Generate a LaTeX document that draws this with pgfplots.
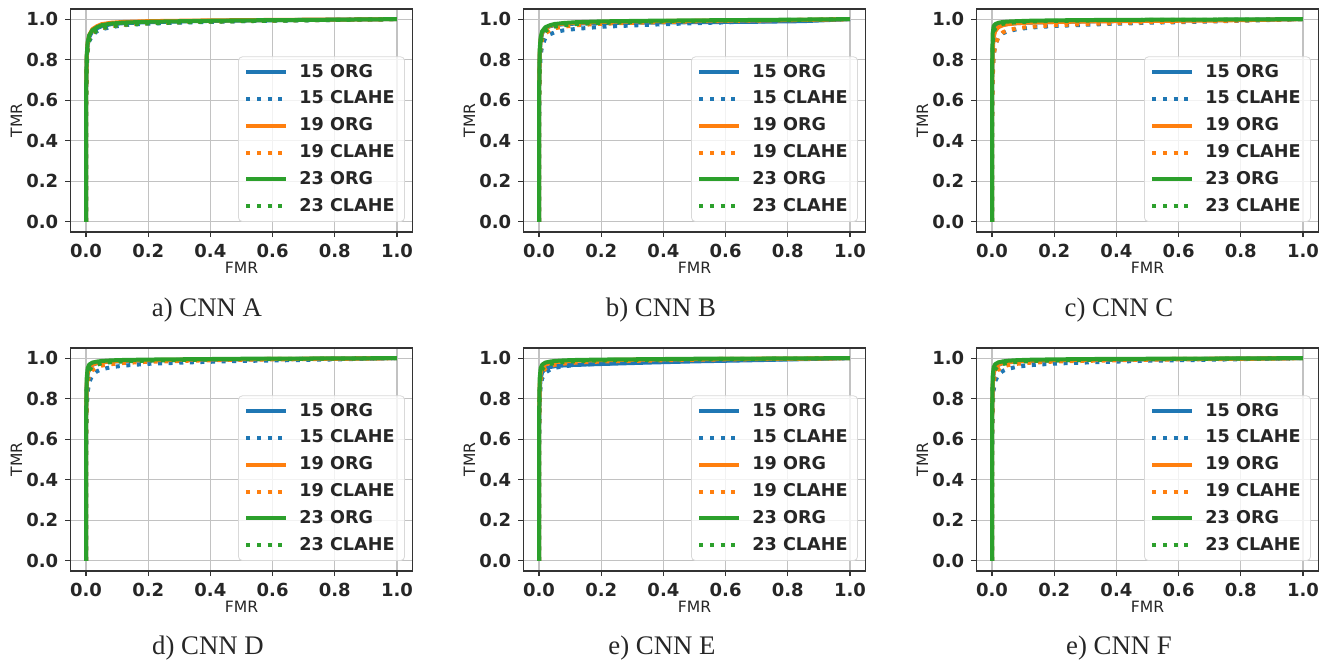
\documentclass[border=0pt]{standalone}
\usepackage{pgfplots}
\pgfplotsset{compat=1.18}
\usepackage{pgfplotstable}
\usepackage{fontspec}
\setmainfont{Liberation Serif}
\newfontfamily\dvs{DejaVu Sans}

\definecolor{cblue}{HTML}{1F77B4}
\definecolor{corange}{HTML}{FF7F0E}
\definecolor{cgreen}{HTML}{2CA02C}

% columns: a=15 ORG, b=15 CLAHE, c=19 ORG, d=19 CLAHE, e=23 ORG, f=23 CLAHE
\pgfplotstableread{
x     a     b     c     d     e     f
0     0     0     0     0     0     0
0     0.60  0.50  0.60  0.50  0.62  0.52
0.002 0.80  0.75  0.81  0.76  0.82  0.77
0.005 0.87  0.84  0.88  0.85  0.885 0.85
0.01  0.91  0.89  0.92  0.90  0.92  0.895
0.02  0.94  0.92  0.95  0.93  0.945 0.925
0.035 0.955 0.94  0.965 0.945 0.96  0.945
0.05  0.965 0.95  0.975 0.955 0.97  0.955
0.08  0.975 0.96  0.982 0.965 0.978 0.965
0.12  0.98  0.97  0.986 0.972 0.983 0.972
0.2   0.985 0.978 0.99  0.98  0.987 0.979
0.35  0.99  0.985 0.993 0.987 0.991 0.986
0.5   0.993 0.99  0.995 0.991 0.994 0.99
0.7   0.996 0.994 0.997 0.995 0.996 0.994
0.85  0.998 0.997 0.998 0.997 0.998 0.997
1     1     1     1     1     1     1
}\cnnA
\pgfplotstableread{
x     a     b     c     d     e     f
0     0     0     0     0     0     0
0     0.60  0.45  0.60  0.50  0.62  0.55
0.002 0.82  0.72  0.83  0.78  0.85  0.80
0.005 0.89  0.82  0.90  0.86  0.91  0.88
0.01  0.93  0.87  0.935 0.90  0.94  0.915
0.02  0.955 0.905 0.955 0.93  0.96  0.94
0.035 0.965 0.925 0.967 0.945 0.97  0.955
0.05  0.97  0.935 0.973 0.955 0.976 0.963
0.08  0.975 0.945 0.978 0.963 0.981 0.97
0.12  0.978 0.952 0.982 0.97  0.985 0.976
0.2   0.98  0.962 0.986 0.977 0.989 0.982
0.35  0.983 0.972 0.99  0.984 0.992 0.988
0.5   0.985 0.98  0.992 0.989 0.994 0.991
0.7   0.987 0.988 0.994 0.993 0.996 0.994
0.85  0.99  0.994 0.996 0.996 0.998 0.997
1     1     1     1     1     1     1
}\cnnB
\pgfplotstableread{
x     a     b     c     d     e     f
0     0     0     0     0     0     0
0     0.65  0.45  0.62  0.42  0.75  0.65
0.002 0.86  0.72  0.84  0.70  0.93  0.88
0.005 0.92  0.82  0.91  0.81  0.965 0.93
0.01  0.95  0.87  0.94  0.87  0.975 0.955
0.02  0.965 0.91  0.96  0.91  0.982 0.97
0.035 0.972 0.93  0.97  0.935 0.986 0.977
0.05  0.976 0.94  0.975 0.945 0.988 0.981
0.08  0.98  0.95  0.98  0.955 0.99  0.985
0.12  0.983 0.958 0.983 0.962 0.992 0.988
0.2   0.986 0.966 0.986 0.97  0.994 0.991
0.35  0.99  0.975 0.989 0.978 0.996 0.994
0.5   0.993 0.982 0.991 0.985 0.997 0.996
0.7   0.995 0.988 0.993 0.99  0.998 0.997
0.85  0.997 0.994 0.996 0.995 0.999 0.998
1     1     1     1     1     1     1
}\cnnC
\pgfplotstableread{
x     a     b     c     d     e     f
0     0     0     0     0     0     0
0     0.65  0.45  0.65  0.55  0.70  0.60
0.002 0.86  0.73  0.87  0.80  0.90  0.85
0.005 0.92  0.83  0.925 0.88  0.95  0.91
0.01  0.95  0.88  0.952 0.915 0.968 0.94
0.02  0.967 0.915 0.968 0.94  0.978 0.958
0.035 0.975 0.935 0.976 0.955 0.983 0.968
0.05  0.979 0.945 0.98  0.963 0.986 0.974
0.08  0.983 0.955 0.984 0.97  0.989 0.98
0.12  0.986 0.963 0.987 0.976 0.991 0.984
0.2   0.989 0.972 0.99  0.982 0.993 0.988
0.35  0.992 0.98  0.993 0.988 0.995 0.992
0.5   0.994 0.986 0.995 0.992 0.997 0.995
0.7   0.996 0.991 0.997 0.995 0.998 0.997
0.85  0.998 0.995 0.998 0.997 0.999 0.998
1     1     1     1     1     1     1
}\cnnD
\pgfplotstableread{
x     a     b     c     d     e     f
0     0     0     0     0     0     0
0     0.60  0.50  0.65  0.58  0.70  0.62
0.002 0.83  0.77  0.87  0.82  0.90  0.86
0.005 0.90  0.86  0.925 0.89  0.95  0.92
0.01  0.93  0.90  0.952 0.925 0.968 0.946
0.02  0.948 0.928 0.968 0.948 0.978 0.962
0.035 0.956 0.943 0.976 0.96  0.983 0.971
0.05  0.96  0.952 0.98  0.967 0.986 0.976
0.08  0.964 0.96  0.984 0.973 0.989 0.981
0.12  0.967 0.966 0.987 0.978 0.991 0.985
0.2   0.971 0.973 0.99  0.983 0.993 0.989
0.35  0.978 0.981 0.993 0.988 0.995 0.992
0.5   0.984 0.987 0.995 0.992 0.997 0.995
0.7   0.99  0.992 0.997 0.995 0.998 0.997
0.85  0.995 0.996 0.998 0.997 0.999 0.998
1     1     1     1     1     1     1
}\cnnE
\pgfplotstableread{
x     a     b     c     d     e     f
0     0     0     0     0     0     0
0     0.66  0.48  0.65  0.56  0.72  0.62
0.002 0.87  0.75  0.87  0.81  0.91  0.86
0.005 0.925 0.84  0.925 0.885 0.955 0.92
0.01  0.952 0.885 0.952 0.92  0.97  0.946
0.02  0.967 0.918 0.968 0.943 0.979 0.962
0.035 0.975 0.937 0.976 0.957 0.984 0.971
0.05  0.979 0.947 0.98  0.965 0.987 0.976
0.08  0.983 0.957 0.984 0.972 0.99  0.981
0.12  0.986 0.965 0.987 0.977 0.992 0.985
0.2   0.989 0.973 0.99  0.983 0.994 0.989
0.35  0.992 0.981 0.993 0.988 0.996 0.992
0.5   0.994 0.987 0.995 0.992 0.997 0.995
0.7   0.996 0.992 0.997 0.995 0.998 0.997
0.85  0.998 0.996 0.998 0.997 0.999 0.998
1     1     1     1     1     1     1
}\cnnF

\pgfplotsset{
  rocax/.style={
    width=171pt, height=111.5pt, scale only axis,
    xmin=-0.05, xmax=1.05, ymin=-0.05, ymax=1.05,
    xtick={0,0.2,0.4,0.6,0.8,1.0}, ytick={0,0.2,0.4,0.6,0.8,1.0},
    /pgf/number format/.cd, fixed, fixed zerofill, precision=1, assume math mode=true, /pgfplots/.cd,
    grid=major, grid style={black!24, line width=0.6pt},
    axis line style={black!80, line width=0.6pt},
    tick align=outside, tick pos=left, major tick length=2.6pt,
    tick style={black!80, line width=0.6pt},
    ticklabel style={font=\dvs\bfseries\fontsize{9}{10}\selectfont, text=black!85},
    xlabel=FMR, ylabel=TMR,
    label style={font=\dvs\fontsize{7.8}{9}\selectfont, text=black!85},
    xlabel style={at={(axis description cs:0.5,-0.161)}, anchor=center},
    ylabel style={at={(axis description cs:-0.158,0.5)}, anchor=center},
    legend style={at={(0.978,0.045)}, anchor=south east, draw=black!15,
      rounded corners=2pt, fill=white, fill opacity=0.8, text opacity=1,
      font=\dvs\bfseries\fontsize{8.8}{10}\selectfont, text=black!85,
      row sep=1.4pt, inner xsep=3pt, inner ysep=1.6pt,
      /tikz/every odd column/.append style={column sep=3.5pt}},
    legend cell align=left,
    legend image code/.code={\draw[##1] (0pt,0pt) -- (20pt,0pt);},
  },
  sorg/.style={line width=2pt, line join=round},
  sclahe/.style={line width=2pt, dash pattern=on 2pt off 3.3pt},
}

\newcommand\panel[4]{%
  \begin{axis}[rocax, at={(#1,#2)}, anchor=north west]
    \addplot[sorg, cblue] table[x=x, y=a] {#3};
    \addplot[sclahe, cblue] table[x=x, y=b] {#3};
    \addplot[sorg, corange] table[x=x, y=c] {#3};
    \addplot[sclahe, corange] table[x=x, y=d] {#3};
    \addplot[sorg, cgreen] table[x=x, y=e] {#3};
    \addplot[sclahe, cgreen] table[x=x, y=f] {#3};
    \legend{15 ORG, 15 CLAHE, 19 ORG, 19 CLAHE, 23 ORG, 23 CLAHE}
  \end{axis}
  \node[font=\fontsize{13.4}{15}\selectfont, text=black!85] at (#4) {\capt};
}

\begin{document}
\begin{tikzpicture}
\path[use as bounding box] (0,0) rectangle (666.5pt,-331pt);
\def\capt{a) CNN A}\panel{35.25pt}{-4.5pt}{\cnnA}{103.5pt,-155pt}
\def\capt{b) CNN B}\panel{261.75pt}{-4.5pt}{\cnnB}{330.5pt,-155pt}
\def\capt{c) CNN C}\panel{488.25pt}{-4.5pt}{\cnnC}{559.5pt,-155pt}
\def\capt{d) CNN D}\panel{35.25pt}{-174pt}{\cnnD}{104pt,-324pt}
\def\capt{e) CNN E}\panel{261.75pt}{-174pt}{\cnnE}{331pt,-324pt}
\def\capt{e) CNN F}\panel{488.25pt}{-174pt}{\cnnF}{559.5pt,-324pt}
\end{tikzpicture}
\end{document}
